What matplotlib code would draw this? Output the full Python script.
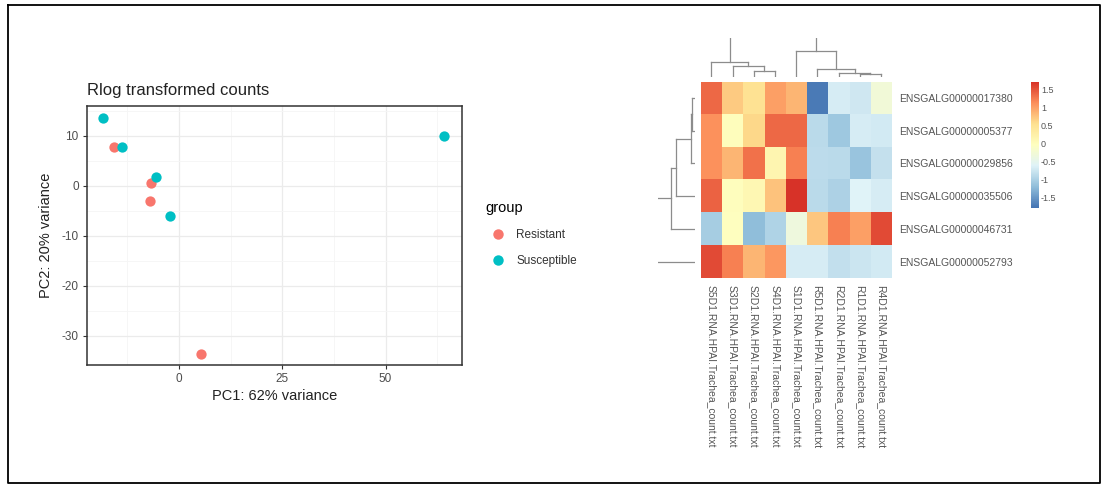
import numpy as np
import matplotlib
matplotlib.use('Agg')
import matplotlib.pyplot as plt
from matplotlib.colors import LinearSegmentedColormap
from matplotlib.lines import Line2D

plt.rcParams['font.family'] = ['Liberation Sans', 'DejaVu Sans']
plt.rcParams['axes.unicode_minus'] = False

# PCA (rlog transformed counts)
pc1_res = [-15.7, -6.8, -7.0, 5.2]
pc2_res = [7.9, 0.6, -2.9, -33.6]
pc1_sus = [-18.4, -13.9, -5.7, -2.2, 64.2]
pc2_sus = [13.6, 7.9, 1.9, -5.9, 10.0]
groups = ['Resistant', 'Susceptible']

# heatmap
samples = ['S5D1', 'S3D1', 'S2D1', 'S4D1', 'S1D1', 'R5D1', 'R2D1', 'R1D1', 'R4D1']
col_labels = [s + '.RNA.HPAI.Trachea_count.txt' for s in samples]
genes = ['ENSGALG00000017380', 'ENSGALG00000005377', 'ENSGALG00000029856',
         'ENSGALG00000035506', 'ENSGALG00000046731', 'ENSGALG00000052793']
z = np.array([
    [1.35, 0.70, 0.50, 1.00, 0.85, -1.75, -0.70, -0.75, -0.30],
    [1.10, 0.00, 0.60, 1.35, 1.35, -0.90, -1.10, -0.70, -0.72],
    [1.10, 0.85, 1.30, 0.15, 1.20, -0.88, -0.90, -1.15, -0.83],
    [1.40, -0.02, 0.10, 0.75, 1.70, -0.90, -1.00, -0.63, -0.70],
    [-1.05, -0.05, -1.22, -0.98, -0.35, 0.72, 1.20, 1.00, 1.55],
    [1.55, 1.20, 0.85, 1.05, -0.70, -0.70, -0.85, -0.78, -0.72],
])
cbar_ticks = [-1.5, -1, -0.5, 0, 0.5, 1, 1.5]
cbar_ticklabels = ['-1.5', '-1', '-0.5', '0', '0.5', '1', '1.5']

# dendrogram merges: (left position, right position, height); positions are leaf indices
col_merges = [(2, 3, 6.3), (1, 2.5, 11.0), (0, 1.75, 14.7),
              (7, 8, 3.0), (6, 7.5, 4.3), (5, 6.75, 7.7), (4, 5.875, 26.3)]
col_root = (0.875, 4.9375, 39.0)
row_merges = [(0, 1, 2.5), (0.5, 2, 3.5), (1.25, 3, 19.0), (2.125, 4, 24.0)]
row_root = (3.0625, 5, 37.0)

W, H = 1106, 487
fig = plt.figure(figsize=(W / 100, H / 100), dpi=100)

def box(x0, y0, x1, y1):
    return [x0 / W, 1 - y1 / H, (x1 - x0) / W, (y1 - y0) / H]

# outer frame
frame = fig.add_axes([0, 0, 1, 1])
frame.set_xlim(0, W)
frame.set_ylim(H, 0)
frame.axis('off')
frame.plot([8, 1100, 1100, 8, 8], [5, 5, 483, 483, 5], color='black', lw=1.3)

# ---- PCA panel ----
ax = fig.add_axes(box(87, 106, 462, 365))
ax.set_xlim(-22.3, 68.5)
ax.set_ylim(-35.8, 16)
ax.set_xticks([0, 25, 50])
ax.set_yticks([-30, -20, -10, 0, 10])
ax.set_xticks([-12.5, 12.5, 37.5, 62.5], minor=True)
ax.set_yticks([-25, -15, -5, 5, 15], minor=True)
ax.grid(which='major', color='#EBEBEB', lw=0.9)
ax.grid(which='minor', color='#F5F5F5', lw=0.6)
ax.set_axisbelow(True)
ax.tick_params(which='minor', length=0)
ax.tick_params(which='major', length=3, color='#333333', labelcolor='#4D4D4D', labelsize=8.5, pad=3)
for sp in ax.spines.values():
    sp.set_color('#333333')
    sp.set_linewidth(1.1)
ax.scatter(pc1_res, pc2_res, s=55, color='#F8766D', zorder=3, lw=0)
ax.scatter(pc1_sus, pc2_sus, s=55, color='#00BFC4', zorder=3, lw=0)
ax.set_xlabel('PC1: 62% variance', fontsize=10.5, color='#222222', labelpad=3)
ax.set_ylabel('PC2: 20% variance', fontsize=10.5, color='#222222', labelpad=6)
ax.set_title('Rlog transformed counts', fontsize=12, color='#222222', loc='left', pad=8)

handles = [Line2D([], [], ls='', marker='o', ms=7.5, color=c, mec='none')
           for c in ['#F8766D', '#00BFC4']]
fig.legend(handles, groups, title='group', loc='upper left', bbox_to_anchor=(481 / W, 1 - 196 / H),
           frameon=False, fontsize=8.5, title_fontsize=10.5, alignment='left',
           handletextpad=0.6, labelspacing=1.2, borderaxespad=0, labelcolor='#333333')

# ---- heatmap ----
cmap = LinearSegmentedColormap.from_list('rdylbu', ['#4575B4', '#91BFDB', '#E0F3F8', '#FFFFBF',
                                                    '#FEE090', '#FC8D59', '#D73027'])
vmin, vmax = -1.8, 1.72
hx = fig.add_axes(box(700.7, 81.7, 891.7, 278))
hx.imshow(z, cmap=cmap, vmin=vmin, vmax=vmax, aspect='auto', interpolation='nearest')
hx.set_xticks(range(len(samples)))
hx.set_xticklabels(col_labels, rotation=270, fontsize=7.5, color='#555555')
hx.set_yticks(range(len(genes)))
hx.set_yticklabels(genes, fontsize=7.5, color='#555555')
hx.yaxis.tick_right()
hx.tick_params(length=0, pad=5)
for sp in hx.spines.values():
    sp.set_visible(False)

# column dendrogram
dc = fig.add_axes(box(700.7, 38, 891.7, 77))
dc.set_xlim(-0.5, len(samples) - 0.5)
dc.set_ylim(0, col_root[2])
dc.axis('off')
for a, b, h in col_merges + [col_root]:
    ha = 0
    hb = 0
    for a2, b2, h2 in col_merges:
        if (a2 + b2) / 2 == a:
            ha = h2
        if (a2 + b2) / 2 == b:
            hb = h2
    dc.plot([a, a], [ha, h], color='#8C8C8C', lw=0.9)
    dc.plot([b, b], [hb, h], color='#8C8C8C', lw=0.9)
    if (a, b, h) != col_root:
        dc.plot([a, b], [h, h], color='#8C8C8C', lw=0.9)

# row dendrogram
dr = fig.add_axes(box(658, 81.7, 695, 278))
dr.set_ylim(len(genes) - 0.5, -0.5)
dr.set_xlim(row_root[2], 0)
dr.axis('off')
for a, b, h in row_merges + [row_root]:
    ha = 0
    hb = 0
    for a2, b2, h2 in row_merges:
        if (a2 + b2) / 2 == a:
            ha = h2
        if (a2 + b2) / 2 == b:
            hb = h2
    dr.plot([ha, h], [a, a], color='#8C8C8C', lw=0.9)
    dr.plot([hb, h], [b, b], color='#8C8C8C', lw=0.9)
    if (a, b, h) != row_root:
        dr.plot([h, h], [a, b], color='#8C8C8C', lw=0.9)

# colorbar
cx = fig.add_axes(box(1031, 81.7, 1038.3, 208))
grad = np.linspace(vmax, vmin, 200).reshape(-1, 1)
cx.imshow(grad, cmap=cmap, vmin=vmin, vmax=vmax, aspect='auto',
          extent=[0, 1, vmin, vmax])
cx.set_xticks([])
cx.yaxis.tick_right()
cx.set_yticks(cbar_ticks)
cx.set_yticklabels(cbar_ticklabels, fontsize=6.5, color='#555555')
cx.tick_params(length=0, pad=2)
for sp in cx.spines.values():
    sp.set_visible(False)

fig.savefig('out.png', dpi=100)
